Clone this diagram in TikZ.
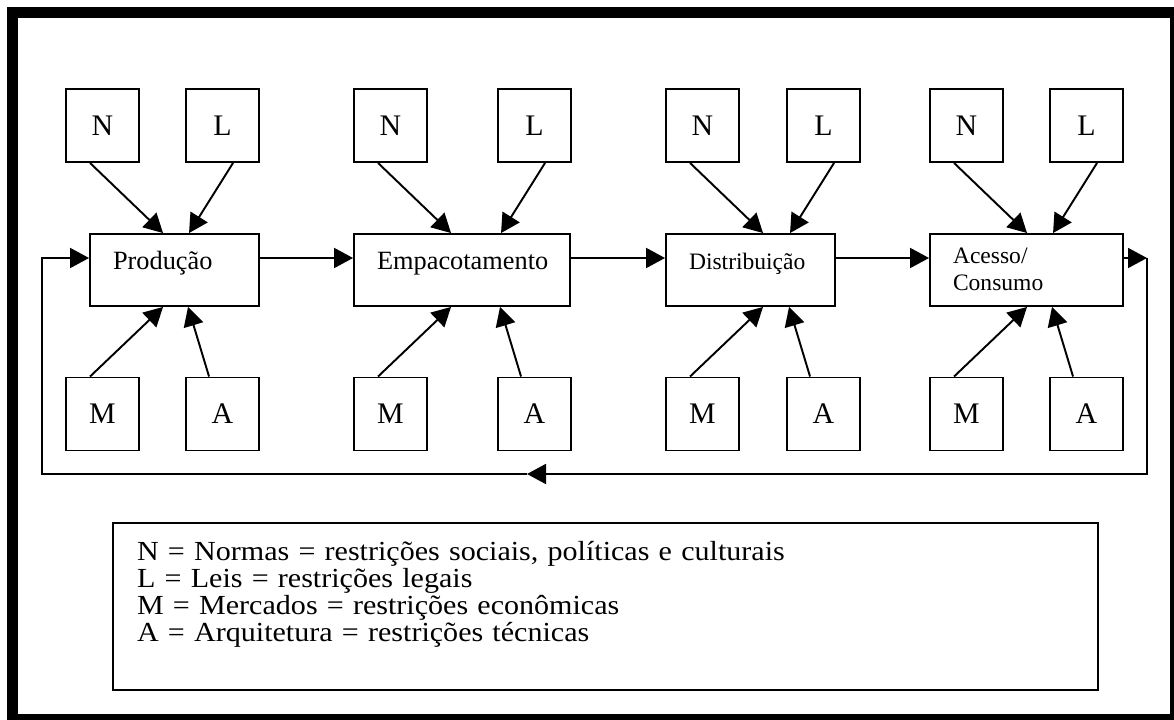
\documentclass[tikz,border=0pt]{standalone}
\usepackage{fontspec}
\setmainfont{Liberation Serif}
\newfontfamily\legfam[FakeStretch=1.09]{Liberation Serif}
\usetikzlibrary{arrows.meta,calc}
\newcommand\fonteleg{\legfam\fontsize{15.7}{15.4}\selectfont\lineskiplimit=-10pt\relax}
\tikzset{
  letra/.style={draw,line width=1.1pt,minimum size=1.46cm,inner sep=0pt,font=\fontsize{17}{20}\selectfont},
  etapa/.style={draw,line width=1.1pt,align=left,inner xsep=0.46cm,inner ysep=0pt,text height=0.7cm,text depth=0.74cm},
  seta/.style={line width=1.1pt,-{Triangle[length=0.38cm,width=0.4cm]}},
  legenda/.style={draw,line width=1.1pt,align=left,inner xsep=0.48cm,inner ysep=0pt,font=\fonteleg},
}
\begin{document}
\begin{tikzpicture}[x=0.02cm,y=-0.02cm]
\useasboundingbox (0,0) rectangle (1174,720);
\clip (0,0) rectangle (1174,720);
\draw[line width=0.22cm] (12.5,12.5) rectangle (1175.5,719.5);
\node[etapa,text width=2.46cm,font=\fontsize{15}{18}\selectfont] (p1) at (174.5,270) {Produção};
\node[etapa,text width=3.40cm,font=\fontsize{15}{18}\selectfont] (p2) at (462,270) {Empacotamento};
\node[etapa,text width=2.46cm,font=\fontsize{13.4}{15.9}\selectfont] (p3) at (750.5,270) {Distribuição};
\node[etapa,text width=2.94cm,text height=0.58cm,text depth=0.86cm,font=\fontsize{13.4}{15.9}\selectfont] (p4) at (1026.5,270) {Acesso/\\Consumo};
\foreach \i/\nx/\lx in {1/66/186,2/354/498,3/666/787,4/930/1050}{
  \node[letra] (n\i) at (\nx+36.5,125.5) {N};
  \node[letra] (l\i) at (\lx+36.5,125.5) {L};
  \node[letra] (m\i) at (\nx+36.5,414) {M};
  \node[letra] (a\i) at (\lx+36.5,414) {A};
  \draw[seta] ($(n\i.south west)+(25,0)$) -- ($(n\i.south west |- p\i.north)+(98,0)$);
  \draw[seta] ($(l\i.south west)+(48,0)$) -- ($(l\i.south west |- p\i.north)+(4,0)$);
  \draw[seta] ($(m\i.north west)+(25,0)$) -- ($(m\i.north west |- p\i.south)+(98,0)$);
  \draw[seta] ($(a\i.north west)+(24,0)$) -- ($(a\i.north west |- p\i.south)+(3,0)$);
}
\coordinate (vL) at (42,258);
\coordinate (vR) at (1147,258);
\coordinate (bL) at (42,474);
\coordinate (bR) at (1147,474);
\coordinate (bM) at (527,474);
\foreach \a/\b in {p1/p2,p2/p3,p3/p4} \draw[seta] (\a.east |- vL) -- (\b.west |- vL);
\draw[seta] (p4.east |- vR) -- (vR);
\draw[seta] (vR) -- (bR) -- (bM);
\draw[seta] (bM) -- (bL) -- (vL) -- (p1.west |- vL);
\node[legenda,text width=18.74cm,text height=0.74cm,text depth=2.6cm] (leg) at (605.5,606.5) {N = Normas = restrições sociais, políticas e culturais\\L = Leis = restrições legais\\M = Mercados = restrições econômicas\\A = Arquitetura = restrições técnicas};
\end{tikzpicture}
\end{document}
